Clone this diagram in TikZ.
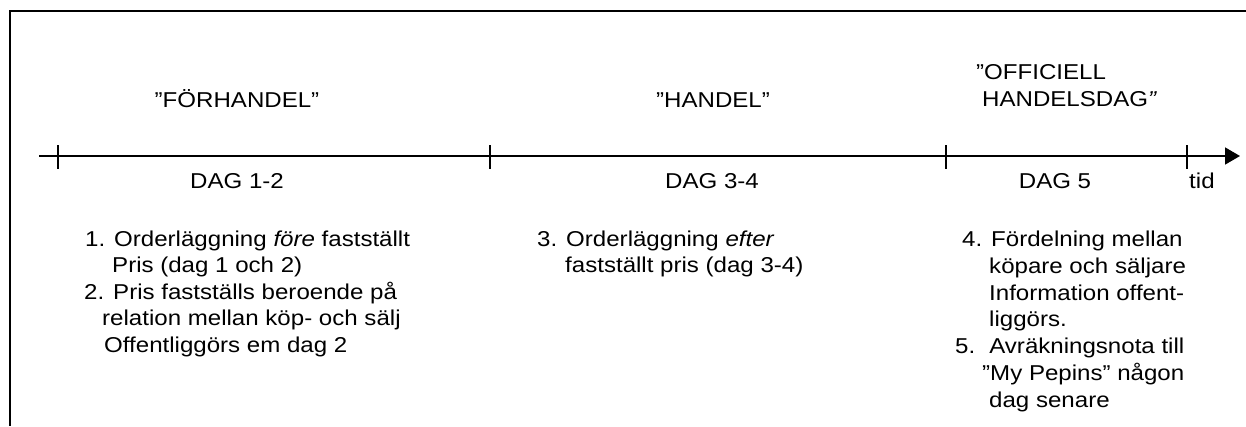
\documentclass[tikz,border=0pt]{standalone}
\usepackage{fontspec}
\setmainfont[FakeStretch=1.12]{Liberation Sans}
\usetikzlibrary{arrows.meta}

\begin{document}
\begin{tikzpicture}[x=1pt,y=-1pt,
    txt/.style={anchor=base west,inner sep=0pt,font=\fontsize{21.5}{26}\selectfont},
    lbl/.style={anchor=base,inner sep=0pt,font=\fontsize{21.5}{26}\selectfont},
    heavy/.style={line width=1.6pt}]
    \useasboundingbox (0,0) rectangle (1246,426);
    % Draw the frame (top and left side only)
    \coordinate (frameR) at (1246,11);
    \coordinate (frameTL) at (10,11);
    \coordinate (frameB) at (10,426);
    \draw[heavy] (frameR) -- (frameTL) -- (frameB);
    % Draw the time axis
    \coordinate (axisStart) at (39,156);
    \coordinate (axisEnd) at (1240,156);
    \draw[heavy,-{Triangle[length=15pt,width=17pt]}] (axisStart) -- (axisEnd);
    % Ticks on the axis
    \coordinate (day1) at (58,156);
    \coordinate (day3) at (490,156);
    \coordinate (day5) at (946,156);
    \coordinate (dayEnd) at (1187,156);
    \draw[heavy] (day1) ++(0,-11) -- ++(0,24);
    \draw[heavy] (day3) ++(0,-11) -- ++(0,24);
    \draw[heavy] (day5) ++(0,-11) -- ++(0,24);
    \draw[heavy] (dayEnd) ++(0,-11) -- ++(0,24);
    % Phase names
    \node[lbl] (forhandel) at (237,107) {”FÖRHANDEL”};
    \node[lbl] (handel) at (713,107) {”HANDEL”};
    \node[txt] (officiell) at (976,79) {”OFFICIELL};
    \node[txt] (handelsdag) at (982,106) {HANDELSDAG\textit{”}};
    % Day labels under the axis
    \node[lbl] (dag12) at (237,188) {DAG 1-2};
    \node[lbl] (dag34) at (712,188) {DAG 3-4};
    \node[lbl] (dag5) at (1055,188) {DAG 5};
    \node[txt] (tid) at (1189,188) {tid};
    % Notes for day 1-2
    \node[txt] (note1a) at (85,246) {1. Orderläggning \textit{före} fastställt};
    \node[txt] (note1b) at (112,272) {Pris (dag 1 och 2)};
    \node[txt] (note2a) at (84,299) {2. Pris fastställs beroende på};
    \node[txt] (note2b) at (102,325) {relation mellan köp- och sälj};
    \node[txt] (note2c) at (104,352) {Offentliggörs em dag 2};
    % Notes for day 3-4
    \node[txt] (note3a) at (537,246) {3. Orderläggning \textit{efter}};
    \node[txt] (note3b) at (565,272) {fastställt pris (dag 3-4)};
    % Notes for day 5
    \node[txt] (note4a) at (962,246) {4. Fördelning mellan};
    \node[txt] (note4b) at (989,273) {köpare och säljare};
    \node[txt] (note4c) at (989,300) {Information offent-};
    \node[txt] (note4d) at (989,326) {liggörs.};
    \node[txt] (note5a) at (955,353) {5.\hspace{14pt}Avräkningsnota till};
    \node[txt] (note5b) at (982,380) {”My Pepins” någon};
    \node[txt] (note5c) at (989,407) {dag senare};
\end{tikzpicture}
\end{document}
